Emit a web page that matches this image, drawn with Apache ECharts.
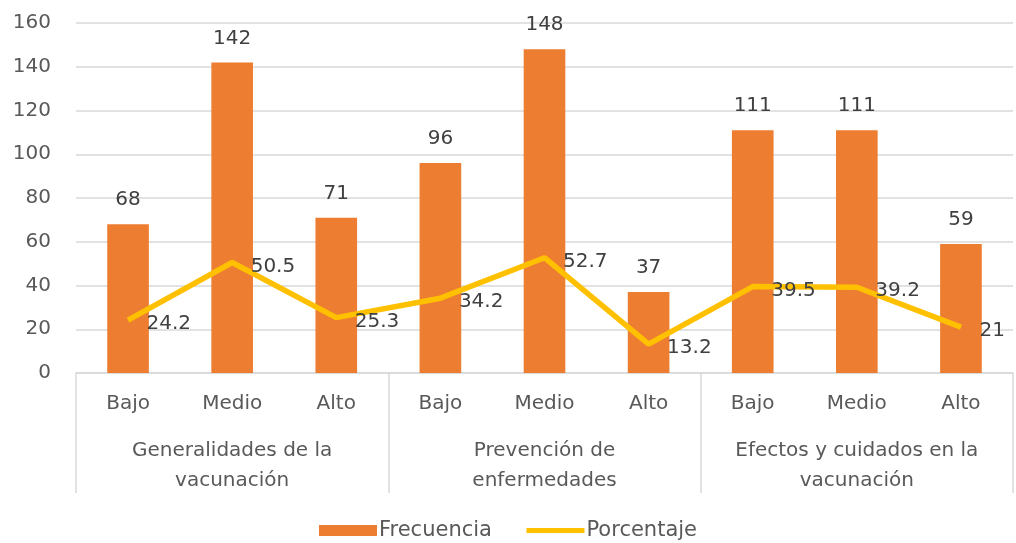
<!DOCTYPE html>
<html>
<head>
<meta charset="utf-8">
<script src="https://cdn.jsdelivr.net/npm/echarts@6/dist/echarts.min.js"></script>
<style>
    html, body { margin: 0; padding: 0; background: #fff; }
    #chart { width: 1016px; height: 543px; }
</style>
</head>
<body>
<div id="chart"></div>
<script>
    // datos del grafico
    const niveles = ['Bajo', 'Medio', 'Alto', 'Bajo', 'Medio', 'Alto', 'Bajo', 'Medio', 'Alto'];
    const grupos = ['Generalidades de la\nvacunación', 'Prevención de\nenfermedades', 'Efectos y cuidados en la\nvacunación'];
    const frecuencia = [68, 142, 71, 96, 148, 37, 111, 111, 59];
    const porcentaje = [24.2, 50.5, 25.3, 34.2, 52.7, 13.2, 39.5, 39.2, 21];

    const myChart = echarts.init(document.getElementById('chart'));
    const fuente = 'DejaVu Sans';
    const gris = '#d9d9d9';

    const option = {
        animation: false,
        textStyle: { fontFamily: fuente },
        color: ['#ED7D31', '#FFC000'],
        grid: { left: 76, right: 3, top: 23, bottom: 170, containLabel: false },
        legend: {
            bottom: -3,
            left: 'center',
            itemWidth: 58,
            itemHeight: 11,
            itemGap: 32,
            textStyle: { fontSize: 21, color: '#595959', fontFamily: fuente, padding: [0, 0, 0, -3] },
            data: [
                { name: 'Frecuencia', icon: 'rect' },
                { name: 'Porcentaje', itemStyle: { opacity: 0 }, lineStyle: { width: 5 } }
            ]
        },
        xAxis: [
            {
                type: 'category',
                data: niveles,
                axisLine: { lineStyle: { color: gris, width: 1.5 } },
                axisTick: { show: false },
                axisLabel: { interval: 0, margin: 21, fontSize: 20, color: '#595959' }
            },
            {
                type: 'category',
                data: grupos,
                position: 'bottom',
                axisLine: { show: false },
                axisTick: { show: true, length: 120, lineStyle: { color: gris, width: 1.5 } },
                axisLabel: { interval: 0, margin: 63, fontSize: 20, lineHeight: 30, color: '#595959' }
            }
        ],
        yAxis: {
            type: 'value',
            min: 0,
            max: 160,
            interval: 20,
            axisLine: { show: false },
            axisTick: { show: false },
            splitLine: { lineStyle: { color: gris, width: 1.5 } },
            axisLabel: { margin: 25, fontSize: 20, color: '#595959' }
        },
        series: [
            {
                name: 'Frecuencia',
                type: 'bar',
                data: frecuencia,
                barWidth: '40%',
                label: { show: true, position: 'top', distance: 14, fontSize: 20, color: '#404040' }
            },
            {
                name: 'Porcentaje',
                type: 'line',
                data: porcentaje,
                symbol: 'circle',
                symbolSize: 1,
                lineStyle: { width: 5.5 },
                label: { show: true, position: 'right', distance: 18, offset: [0, 4], fontSize: 20, color: '#404040' }
            }
        ]
    };
    myChart.setOption(option);
</script>
</body>
</html>
